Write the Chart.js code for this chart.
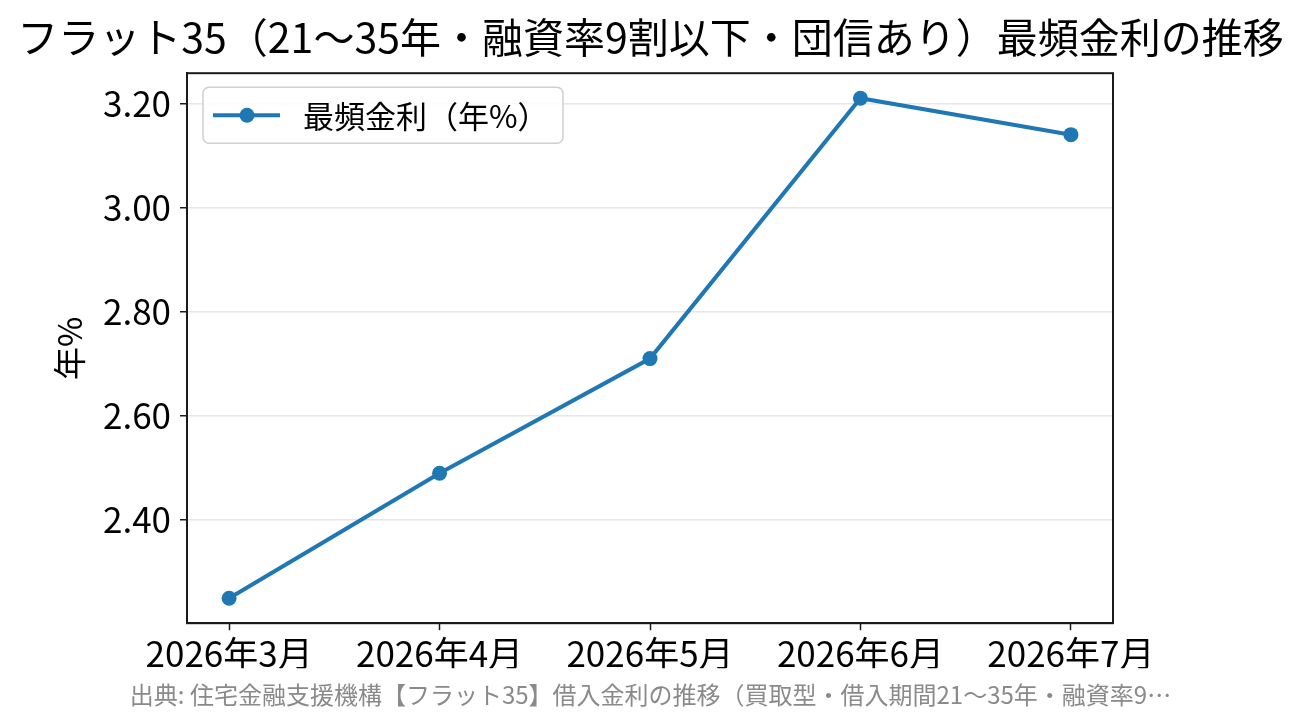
<!DOCTYPE html>
<html lang="ja">
<head>
  <meta charset="UTF-8">
  <title>フラット35 最頻金利の推移</title>
  <style>
    html, body { margin: 0; padding: 0; background: #fff; }
    #chart { display: block; }
  </style>
</head>
<body>
  <canvas id="chart" width="1301" height="725"></canvas>

  <script src="https://cdn.jsdelivr.net/npm/chart.js"></script>
  <script>
    // Data
    const months = ['2026年3月', '2026年4月', '2026年5月', '2026年6月', '2026年7月'];
    const rates = [2.25, 2.49, 2.71, 3.21, 3.14];
    const yTicks = [2.40, 2.60, 2.80, 3.00, 3.20];

    const titleText = 'フラット35（21～35年・融資率9割以下・団信あり）最頻金利の推移';
    const sourceText = '出典: 住宅金融支援機構【フラット35】借入金利の推移（買取型・借入期間21～35年・融資率9…';
    const seriesLabel = '最頻金利（年%）';
    const yTitle = '年%';

    const FONT = "'Noto Sans CJK JP', 'Noto Sans', sans-serif";
    const BLUE = '#1f77b4';

    // matplotlib-like 5% margins
    const yMin = Math.min(...rates), yMax = Math.max(...rates);
    const yPad = (yMax - yMin) * 0.05;

    // full box around the plot + legend inside the plot
    const frameAndLegend = {
      id: 'frameAndLegend',
      afterDraw(chart) {
        const { ctx, chartArea: a } = chart;
        ctx.save();
        ctx.strokeStyle = '#1a1a1a';
        ctx.lineWidth = 2;
        ctx.strokeRect(a.left, a.top, a.right - a.left, a.bottom - a.top);

        // legend box
        const ds = chart.data.datasets[0];
        const bx = a.left + 16, by = a.top + 14, bw = 360, bh = 56, r = 6;
        ctx.beginPath();
        ctx.roundRect(bx, by, bw, bh, r);
        ctx.fillStyle = 'rgba(255,255,255,0.85)';
        ctx.fill();
        ctx.strokeStyle = '#d0d0d0';
        ctx.lineWidth = 1.5;
        ctx.stroke();

        const cy = by + bh / 2;
        ctx.beginPath();
        ctx.moveTo(bx + 10, cy);
        ctx.lineTo(bx + 77, cy);
        ctx.strokeStyle = ds.borderColor;
        ctx.lineWidth = ds.borderWidth;
        ctx.stroke();
        ctx.beginPath();
        ctx.arc(bx + 44, cy, ds.pointRadius, 0, Math.PI * 2);
        ctx.fillStyle = ds.pointBackgroundColor;
        ctx.fill();

        ctx.fillStyle = '#000';
        ctx.font = '31px ' + FONT;
        ctx.textBaseline = 'middle';
        ctx.textAlign = 'left';
        ctx.fillText(ds.label, bx + 100, cy + 1);
        ctx.restore();
      }
    };

    new Chart(document.getElementById('chart'), {
      type: 'line',
      data: {
        datasets: [{
          label: seriesLabel,
          data: rates.map((v, i) => ({ x: i, y: v })),
          yAxisID: 'y',
          borderColor: BLUE,
          backgroundColor: BLUE,
          pointBackgroundColor: BLUE,
          pointBorderColor: BLUE,
          borderWidth: 4,
          pointRadius: 7.5,
          pointBorderWidth: 0,
          tension: 0
        }]
      },
      options: {
        responsive: false,
        animation: false,
        devicePixelRatio: 1,
        layout: { padding: 0 },
        plugins: {
          legend: { display: false },
          tooltip: { enabled: false },
          title: {
            display: true,
            text: titleText,
            color: '#000',
            font: { family: FONT, size: 41, weight: 'normal', lineHeight: 1.2 },
            padding: { top: 13, bottom: 11 }
          },
          subtitle: {
            display: true,
            position: 'bottom',
            text: sourceText,
            color: '#8a8a8a',
            font: { family: FONT, size: 24, weight: 'normal', lineHeight: 1.2 },
            padding: { top: 12, bottom: 16 }
          }
        },
        scales: {
          x: {
            type: 'linear',
            min: -0.2,
            max: 4.2,
            afterBuildTicks: s => { s.ticks = months.map((m, i) => ({ value: i })); },
            afterFit: s => { s.height = 45; },
            ticks: {
              color: '#000',
              font: { family: FONT, size: 35 },
              padding: 3,
              maxRotation: 0,
              autoSkip: false,
              callback: v => months[v]
            },
            grid: {
              drawOnChartArea: false,
              drawTicks: true,
              tickLength: 7,
              tickColor: '#1a1a1a',
              tickWidth: 1.5
            },
            border: { display: true, color: '#1a1a1a', width: 2 }
          },
          y: {
            type: 'linear',
            position: 'left',
            min: yMin - yPad,
            max: yMax + yPad,
            afterBuildTicks: s => { s.ticks = yTicks.map(v => ({ value: v })); },
            afterFit: s => { s.width = 187; },
            ticks: {
              color: '#000',
              font: { family: FONT, size: 35 },
              padding: 9,
              callback: v => v.toFixed(2)
            },
            grid: {
              color: '#e6e6e6',
              lineWidth: 1.5,
              drawTicks: true,
              tickLength: 7,
              tickColor: '#1a1a1a',
              tickWidth: 1.5
            },
            border: { display: true, color: '#1a1a1a', width: 2 },
            title: {
              display: true,
              text: yTitle,
              color: '#000',
              font: { family: FONT, size: 33, lineHeight: 1.2 },
              padding: { top: 50, bottom: 0 }
            }
          },
          // empty right-hand band so the plot ends where the reference does
          spacer: {
            type: 'linear',
            position: 'right',
            display: true,
            afterFit: s => { s.width = 188; },
            ticks: { display: false },
            grid: { display: false, drawTicks: false },
            border: { display: false }
          }
        }
      },
      plugins: [frameAndLegend]
    });
  </script>
</body>
</html>
